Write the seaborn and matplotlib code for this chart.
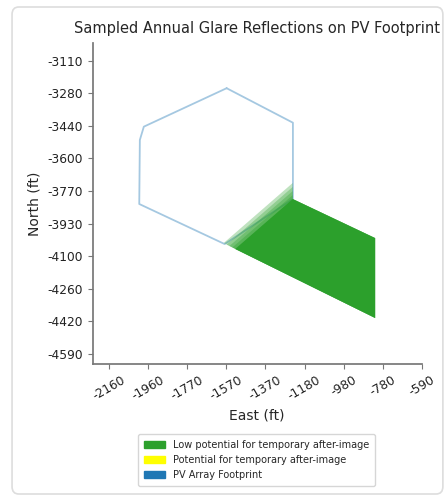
import matplotlib
matplotlib.use("Agg")
import matplotlib.pyplot as plt
from matplotlib.patches import Patch, FancyBboxPatch
import numpy as np
import pandas as pd
import seaborn as sns

# --- data (ft) ---
title = "Sampled Annual Glare Reflections on PV Footprint"

# PV array footprint outline (closed)
footprint_east = [-1570, -1237, -1237, -1580, -2009, -2006, -1986, -1570]
footprint_north = [-3249, -3423, -3808, -4035, -3833, -3510, -3443, -3249]

# low-potential glare reflections: shared lower/right corners
glare_corner_east = [-1238, -824, -824]
glare_corner_north = [-3808, -4005, -4408]

# each sampled reflection layer: lower-left corner and upper corner on the array edge
layer_start_east = [-1585, -1570, -1556, -1541, -1527]
layer_start_north = [-4030, -4038, -4045, -4052, -4060]
layer_top_north = [-3727, -3747, -3768, -3788, -3808]
layer_alpha = [0.3, 0.3, 0.32, 0.35, 1.0]

x_ticks = np.linspace(-2160, -590, 9)
x_labels = ["-2160", "-1960", "-1770", "-1570", "-1370", "-1180", "-980", "-780", "-590"]
y_ticks = np.linspace(-3110, -4590, 10)
y_labels = ["-3110", "-3280", "-3440", "-3600", "-3770", "-3930", "-4100", "-4260", "-4420", "-4590"]

legend_labels = ["Low potential for temporary after-image",
                 "Potential for temporary after-image",
                 "PV Array Footprint"]
legend_colors = ["tab:green", "yellow", "tab:blue"]

sns.set_theme(style="ticks")
plt.rcParams["font.family"] = ["DejaVu Sans"]
plt.rcParams["axes.edgecolor"] = "#777777"
plt.rcParams["xtick.color"] = "#777777"
plt.rcParams["ytick.color"] = "#777777"
plt.rcParams["xtick.labelcolor"] = "#222222"
plt.rcParams["ytick.labelcolor"] = "#222222"

fig = plt.figure(figsize=(4.46, 5.0), dpi=100)
ax = fig.add_axes([0.2078, 0.272, 0.7377, 0.642])

# card border
fig.patches.append(FancyBboxPatch((0.027, 0.012), 0.966, 0.974,
                                  boxstyle="round,pad=0,rounding_size=0.015",
                                  transform=fig.transFigure, fill=False,
                                  edgecolor="#dddddd", linewidth=1.2))

df_fp = pd.DataFrame({"East": footprint_east, "North": footprint_north})
sns.lineplot(data=df_fp, x="East", y="North", sort=False, estimator=None,
             color="tab:blue", alpha=0.4, linewidth=1.3, ax=ax, zorder=1)

edge_east = glare_corner_east[0]
for se, sn, tn, a in zip(layer_start_east, layer_start_north, layer_top_north, layer_alpha):
    ax.fill([se, edge_east] + glare_corner_east + [se],
            [sn, tn] + glare_corner_north + [sn],
            color="tab:green", alpha=a, linewidth=0, zorder=2)

ax.set_xlim(-2243, -590)
ax.set_ylim(-4640, -3021)
ax.set_xticks(x_ticks)
ax.set_xticklabels(x_labels, rotation=30, fontsize=8.8)
ax.set_yticks(y_ticks)
ax.set_yticklabels(y_labels, fontsize=8.8)
ax.tick_params(length=3.5, width=0.8)
sns.despine(ax=ax)

ax.set_title(title, fontsize=10.5, pad=7)
ax.set_xlabel("East (ft)", fontsize=10)
ax.set_ylabel("North (ft)", fontsize=10)

handles = [Patch(color=c, label=l) for c, l in zip(legend_colors, legend_labels)]
fig.legend(handles=handles, loc="upper center", bbox_to_anchor=(0.575, 0.141),
           fontsize=7, frameon=True, handlelength=2.2, handleheight=0.7,
           labelspacing=0.5, borderpad=0.6)

fig.savefig("out.png", dpi=100)
